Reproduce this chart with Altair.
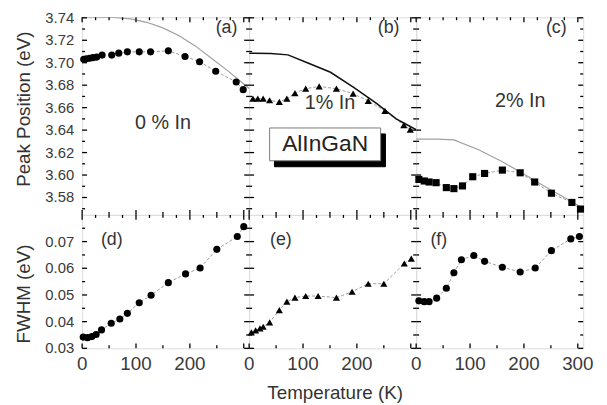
import altair as alt
import pandas as pd

FONT = "Liberation Sans"

# ---------------- data ----------------
# (a) 0 % In, peak position
Ta = [3, 8, 14, 20, 27, 37, 55, 68, 84, 106, 127, 160, 191, 218, 248, 286, 299]
Ea = [3.703, 3.7035, 3.704, 3.7045, 3.705, 3.7068, 3.7068, 3.7085, 3.7097, 3.7097,
      3.7097, 3.7106, 3.7056, 3.7009, 3.6924, 3.6828, 3.676]
# (b) 1 % In, peak position
Tb = [7, 16, 26, 38, 56, 70, 85, 105, 130, 162, 193, 221, 252, 287, 299]
Eb = [3.668, 3.668, 3.668, 3.6666, 3.6651, 3.668, 3.673, 3.6769, 3.6789, 3.6769,
      3.6725, 3.666, 3.6572, 3.6445, 3.6405]
# (c) 2 % In, peak position
Tc = [5, 15, 24, 37, 56, 70, 86, 105, 127, 160, 193, 220, 251, 289, 305]
Ec = [3.5961, 3.5947, 3.5938, 3.5932, 3.5888, 3.5879, 3.5903, 3.5985, 3.6014, 3.6044,
      3.602, 3.5938, 3.5838, 3.5756, 3.5697]
# (d) 0 % In, FWHM
Td = [2, 10, 18, 26, 36, 54, 70, 84, 106, 128, 160, 192, 219, 250, 288, 300]
Wd = [0.0342, 0.0340, 0.0344, 0.0352, 0.0369, 0.0394, 0.0410, 0.0431, 0.0471, 0.0499,
      0.0546, 0.0579, 0.0601, 0.0671, 0.0719, 0.0756]
# (e) 1 % In, FWHM
Te = [4, 12, 20, 26, 38, 56, 70, 85, 105, 128, 162, 191, 221, 250, 288, 301]
We = [0.0360, 0.0367, 0.0375, 0.0381, 0.0397, 0.0443, 0.0475, 0.0490, 0.0496, 0.0496,
      0.0490, 0.0512, 0.0542, 0.0542, 0.0618, 0.0636]
# (f) 2 % In, FWHM
Tf = [5, 15, 24, 38, 56, 70, 84, 107, 127, 160, 193, 221, 251, 287, 303]
Wf = [0.0478, 0.0475, 0.0475, 0.0488, 0.0525, 0.0583, 0.0632, 0.0648, 0.0626, 0.0604,
      0.0586, 0.0601, 0.0666, 0.0710, 0.0719]

# calculated band-gap curves (top row)
Tca = [0, 60, 90, 120, 150, 180, 210, 240, 270, 300, 310]
Eca = [3.7405, 3.7403, 3.739, 3.736, 3.731, 3.724, 3.715, 3.704, 3.693, 3.681, 3.677]
Tcb = [0, 40, 72, 108, 151, 194, 237, 273, 292, 310]
Ecb = [3.7085, 3.7083, 3.707, 3.700, 3.6915, 3.678, 3.6636, 3.650, 3.645, 3.6405]
Tcc = [0, 40, 70, 116, 159, 196, 238, 281, 302, 310]
Ecc = [3.632, 3.632, 3.6313, 3.6225, 3.612, 3.602, 3.590, 3.5784, 3.5726, 3.570]

panel_tags = ["(a)", "(b)", "(c)", "(d)", "(e)", "(f)"]
tag_T = [268, 259, 260, 55, 59, 42]
tag_E = [3.731, 3.731, 3.731, 0.0704, 0.0704, 0.0704]
comp_text = ["0 % In", "1% In", "2% In"]
comp_T = [150, 150, 193]
comp_E = [3.6466, 3.6642, 3.666]
box_text = "AlInGaN"
box_T = [38, 244]
box_E = [3.6419, 3.6127]
shadow_T = [47, 253]
shadow_E = [3.6366, 3.6074]

x_title = "Temperature (K)"
y_titles = ["Peak Position (eV)", "FWHM (eV)"]

X_DOM = [0, 310]
TOP_DOM = [3.5645, 3.7405]
BOT_DOM = [0.030, 0.080]
W, HT, HB = 169, 200, 135

x_major = [0, 100, 200, 300]
x_labels_inner = [0, 100, 200]
x_minor_b = [50, 150, 250]
x_minor_t = [25, 50, 75, 125, 150, 175, 225, 250, 275]
y_top_major = [3.58, 3.60, 3.62, 3.64, 3.66, 3.68, 3.70, 3.72, 3.74]
y_top_minor = [3.57, 3.59, 3.61, 3.63, 3.65, 3.67, 3.69, 3.71, 3.73]
y_bot_major = [0.03, 0.04, 0.05, 0.06, 0.07]
y_bot_minor = [0.035, 0.045, 0.055, 0.065, 0.075]

MAJ, MIN = 5, 3  # tick lengths (px)
LABEL_COLOR = "#3a3a3a"
TITLE_COLOR = "#333333"


def panel(idx, T, V, shape, curve=None, curve_color=None, curve_w=1.2):
    row = idx // 3
    col = idx % 3
    ydom = TOP_DOM if row == 0 else BOT_DOM
    h = HT if row == 0 else HB
    df = pd.DataFrame({"T": T, "V": V})
    xs = alt.Scale(domain=X_DOM, nice=False, zero=False)
    ys = alt.Scale(domain=ydom, nice=False, zero=False)

    def X(f):
        return alt.X(f, scale=xs, axis=None)

    def Y(f):
        return alt.Y(f, scale=ys, axis=None)

    def ticks(vals, along, length, edge):
        tdf = pd.DataFrame({"v": vals})
        if along == "x":
            ypix = (length / 2) if edge == "top" else (h - length / 2)
            return alt.Chart(tdf).mark_tick(orient="vertical", size=length,
                                            thickness=1.3, color="black",
                                            opacity=1).encode(x=X("v:Q"),
                                                              y=alt.value(ypix))
        xpix = (length / 2) if edge == "left" else (W - length / 2)
        return alt.Chart(tdf).mark_tick(orient="horizontal", size=length,
                                        thickness=1.3, color="black",
                                        opacity=1).encode(y=Y("v:Q"),
                                                          x=alt.value(xpix))

    base = alt.Chart(df)
    line = base.mark_line(color="#9a9a9a", strokeWidth=1, strokeDash=[3, 2]).encode(
        x=X("T:Q"), y=Y("V:Q"))
    pts = base.mark_point(shape=shape, filled=True, color="black", opacity=1,
                          size=52).encode(x=X("T:Q"), y=Y("V:Q"))
    layers = [line]
    if curve is not None:
        cdf = pd.DataFrame({"T": curve[0], "V": curve[1]})
        layers.append(alt.Chart(cdf).mark_line(color=curve_color, strokeWidth=curve_w,
                                               clip=True).encode(x=X("T:Q"), y=Y("V:Q")))
    layers.append(pts)

    ymaj = y_top_major if row == 0 else y_bot_major
    ymin = y_top_minor if row == 0 else y_bot_minor

    # inward ticks on all four edges
    layers += [
        ticks(x_major, "x", MAJ, "bottom"),
        ticks(x_minor_b, "x", MIN, "bottom"),
        ticks(x_major, "x", MAJ, "top"),
        ticks(x_minor_t, "x", MIN, "top"),
        ticks(ymaj, "y", MAJ, "left"),
        ticks(ymin, "y", MIN, "left"),
        ticks(ymaj, "y", MAJ, "right"),
        ticks(ymin, "y", MIN, "right"),
    ]

    # tick labels and axis titles
    if row == 1:
        xl = x_major if col == 2 else x_labels_inner
        layers.append(alt.Chart(pd.DataFrame({"v": xl})).mark_text(
            font=FONT, fontSize=19, color=LABEL_COLOR, align="center", baseline="middle"
        ).encode(x=X("v:Q"), y=alt.value(h + 16), text=alt.Text("v:Q", format="d")))
    if col == 0:
        layers.append(alt.Chart(pd.DataFrame({"v": ymaj})).mark_text(
            font=FONT, fontSize=15, color=LABEL_COLOR, align="right", baseline="middle"
        ).encode(y=Y("v:Q"), x=alt.value(-8), text=alt.Text("v:Q", format=".2f")))
        layers.append(alt.Chart(pd.DataFrame({"t": [y_titles[row]]})).mark_text(
            font=FONT, fontSize=19, color=TITLE_COLOR, align="center",
            baseline="middle", angle=270
        ).encode(x=alt.value(-59), y=alt.value(93 if row == 0 else 80), text="t:N"))
    if idx == 4:
        layers.append(alt.Chart(pd.DataFrame({"t": [x_title]})).mark_text(
            font=FONT, fontSize=19, color=TITLE_COLOR, align="center", baseline="middle"
        ).encode(x=alt.value(87), y=alt.value(h + 45), text="t:N"))

    tag = alt.Chart(pd.DataFrame({"T": [tag_T[idx]], "V": [tag_E[idx]],
                                  "t": [panel_tags[idx]]})).mark_text(
        font=FONT, fontSize=18, color=TITLE_COLOR, align="center", baseline="middle"
    ).encode(x=X("T:Q"), y=Y("V:Q"), text="t:N")
    layers.append(tag)

    if row == 0:
        comp = alt.Chart(pd.DataFrame({"T": [comp_T[col]], "V": [comp_E[col]],
                                       "t": [comp_text[col]]})).mark_text(
            font=FONT, fontSize=20, color=TITLE_COLOR, align="center", baseline="middle"
        ).encode(x=X("T:Q"), y=Y("V:Q"), text="t:N")
        layers.append(comp)

    if idx == 1:
        sh = alt.Chart(pd.DataFrame({"x": [shadow_T[0]], "x2": [shadow_T[1]],
                                     "y": [shadow_E[0]], "y2": [shadow_E[1]]})).mark_rect(
            fill="black", stroke="black", strokeWidth=1, opacity=1).encode(
            x=X("x:Q"), x2=alt.X2("x2"), y=Y("y:Q"), y2=alt.Y2("y2"))
        bx = alt.Chart(pd.DataFrame({"x": [box_T[0]], "x2": [box_T[1]],
                                     "y": [box_E[0]], "y2": [box_E[1]]})).mark_rect(
            fill="white", stroke="#7a7a7a", strokeWidth=1, opacity=1).encode(
            x=X("x:Q"), x2=alt.X2("x2"), y=Y("y:Q"), y2=alt.Y2("y2"))
        bt = alt.Chart(pd.DataFrame({"T": [(box_T[0] + box_T[1]) / 2],
                                     "V": [(box_E[0] + box_E[1]) / 2],
                                     "t": [box_text]})).mark_text(
            font=FONT, fontSize=23, color="#222222", align="center", baseline="middle"
        ).encode(x=X("T:Q"), y=Y("V:Q"), text="t:N")
        layers += [sh, bx, bt]

    return alt.layer(*layers).properties(width=W, height=h)


panels = [
    panel(0, Ta, Ea, "circle", (Tca, Eca), "#a0a0a0", 1.2),
    panel(1, Tb, Eb, "triangle-up", (Tcb, Ecb), "#111111", 1.5),
    panel(2, Tc, Ec, "square", (Tcc, Ecc), "#a0a0a0", 1.2),
    panel(3, Td, Wd, "circle"),
    panel(4, Te, We, "triangle-up"),
    panel(5, Tf, Wf, "circle"),
]

chart = alt.concat(*panels, columns=3, spacing=0, bounds="flush").properties(
    padding={"left": 6, "top": 0, "right": 5, "bottom": 0}
).configure_view(stroke="black", strokeWidth=1.6).configure(background="white")

chart.save("out.html", embed_options={"renderer": "svg", "actions": False})
